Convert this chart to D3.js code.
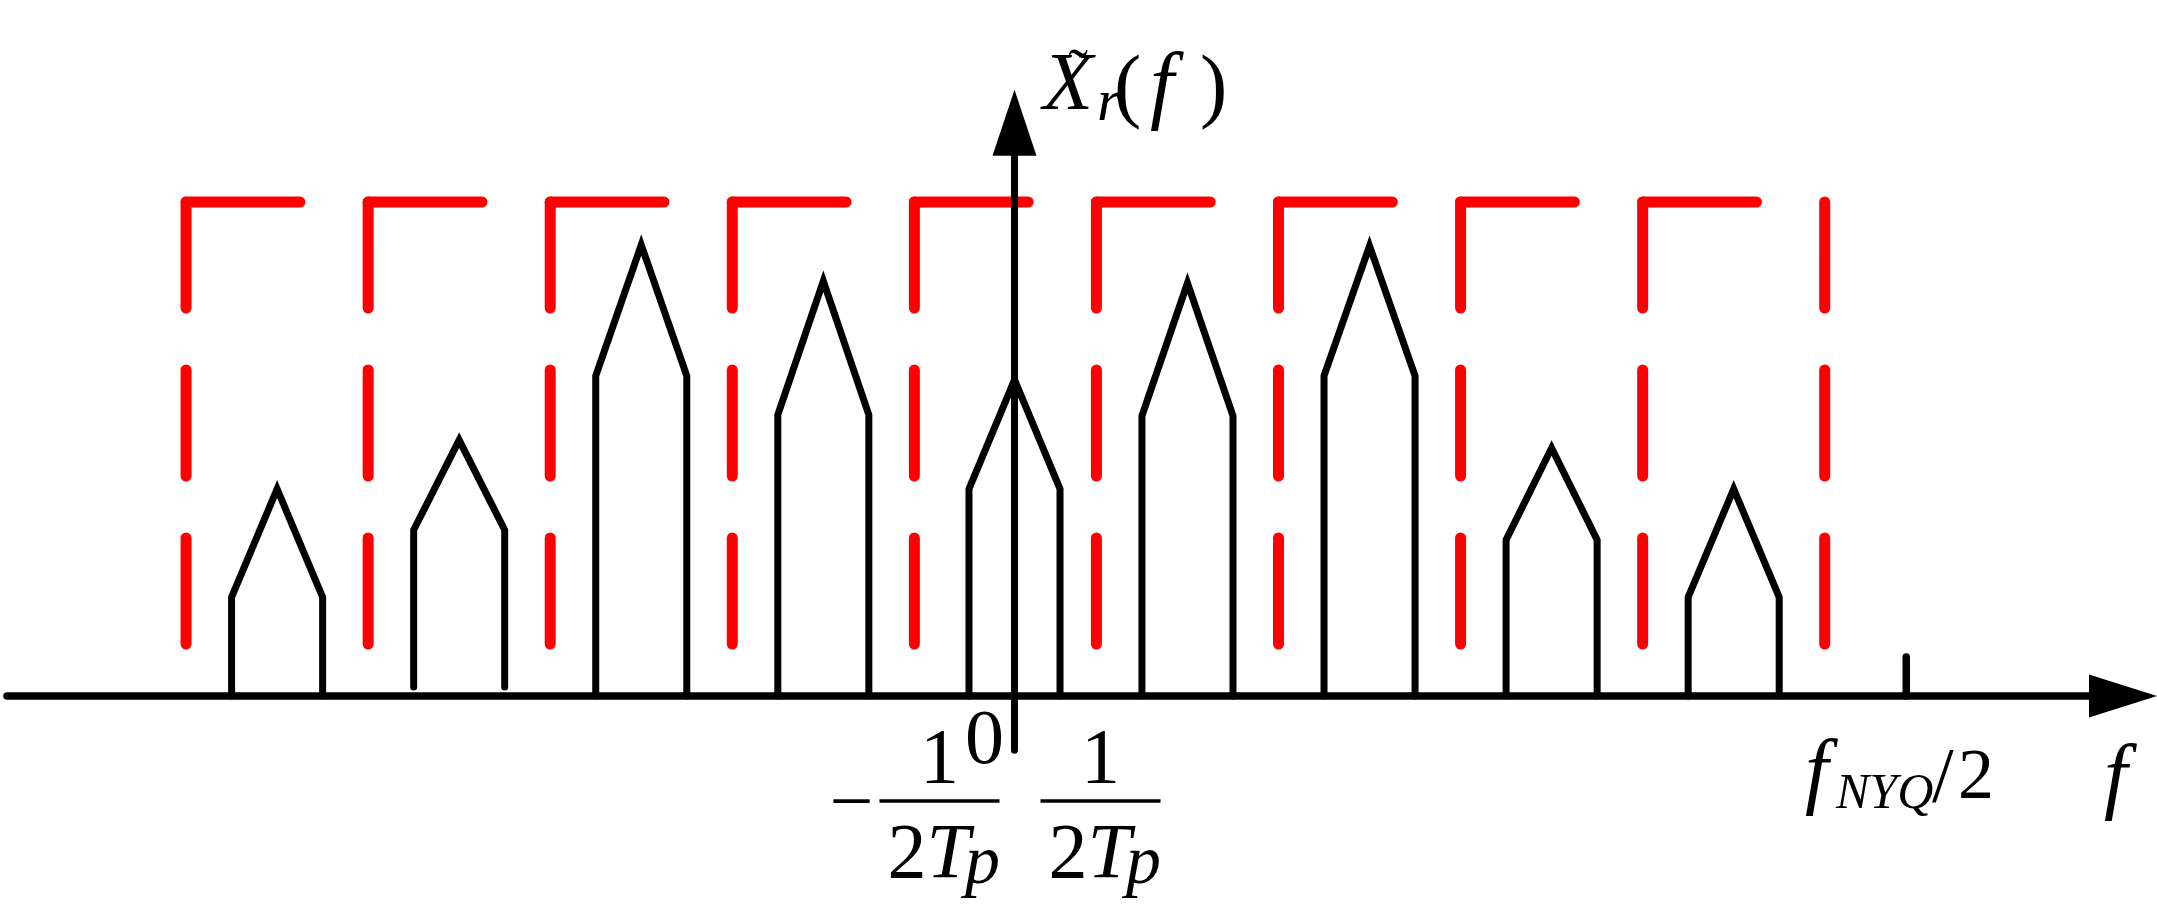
<!DOCTYPE html>
<html>
<head>
<meta charset="utf-8">
<script src="https://cdn.jsdelivr.net/npm/d3@7"></script>
<style>
  body { margin: 0; background: #fff; }
  svg { display: block; background: #fff; }
  text { font-family: "Liberation Serif", "Times New Roman", serif; fill: #000; }
</style>
</head>
<body>
<svg id="chart"></svg>
<script>
// f in units of 1/(2Tp), 0 on the vertical axis; heights relative to the red window
var pulseCenters = [-16.2, -12.2, -8.2, -4.2, 0, 3.8, 7.8, 11.8, 15.8];
var pulseShoulders = [0.200, 0.336, 0.648, 0.569, 0.419, 0.567, 0.648, 0.316, 0.200];
var pulsePeaks = [0.419, 0.518, 0.913, 0.840, 0.640, 0.836, 0.911, 0.502, 0.419];
var pulseBases = [0, 0.018, 0, 0, 0, 0, 0, 0, 0];
var pulseHalfWidth = 1;

var windowEdges = [-18.2, -14.2, -10.2, -6.2, -2.2, 1.8, 5.8, 9.8, 13.8, 17.8];
var windowHeight = 1;
var windowTopLength = 2.5;

var fNyqHalf = 19.58;
var xAxisExtent = [-22.2, 25.1];
var yAxisExtent = [-0.11, 1.227];

var W = 2157, H = 905;

var svg = d3.select("#chart")
            .attr("width", W)
            .attr("height", H);

var x = d3.scaleLinear().domain(xAxisExtent).range([4, W]);
var y = d3.scaleLinear().domain([0, 1]).range([696, 202]);

var red = "#ff0000";

// dashed window edges (drawn first, black goes on top)
svg.append("g").selectAll("line")
   .data(windowEdges)
   .enter()
   .append("line")
   .attr("x1", d => x(d)).attr("x2", d => x(d))
   .attr("y1", y(windowHeight)).attr("y2", y(0))
   .attr("stroke", red)
   .attr("stroke-width", 11)
   .attr("stroke-linecap", "round")
   .attr("stroke-dasharray", "106 62");

svg.append("g").selectAll("line")
   .data(windowEdges.slice(0, -1))
   .enter()
   .append("line")
   .attr("x1", d => x(d)).attr("x2", d => x(d + windowTopLength))
   .attr("y1", y(windowHeight)).attr("y2", y(windowHeight))
   .attr("stroke", red)
   .attr("stroke-width", 11)
   .attr("stroke-linecap", "round");

// spectral replicas
var pulses = pulseCenters.map(function(c, i) {
  return [
    [c - pulseHalfWidth, pulseBases[i]],
    [c - pulseHalfWidth, pulseShoulders[i]],
    [c, pulsePeaks[i]],
    [c + pulseHalfWidth, pulseShoulders[i]],
    [c + pulseHalfWidth, pulseBases[i]]
  ];
});

var line = d3.line().x(d => x(d[0])).y(d => y(d[1]));

svg.append("g").selectAll("path")
   .data(pulses)
   .enter()
   .append("path")
   .attr("d", line)
   .attr("fill", "none")
   .attr("stroke", "#000")
   .attr("stroke-width", 7)
   .attr("stroke-linecap", "round")
   .attr("stroke-linejoin", "miter");

// x axis with arrow
var xEnd = x(xAxisExtent[1]);
svg.append("line")
   .attr("x1", x(xAxisExtent[0]) + 3).attr("x2", xEnd - 60)
   .attr("y1", y(0)).attr("y2", y(0))
   .attr("stroke", "#000").attr("stroke-width", 7.5)
   .attr("stroke-linecap", "round");
svg.append("path")
   .attr("d", "M" + xEnd + "," + y(0) + "L" + (xEnd - 68) + "," + (y(0) - 21.5) +
              "L" + (xEnd - 68) + "," + (y(0) + 21.5) + "Z")
   .attr("fill", "#000");

// y axis with arrow
var yTop = y(yAxisExtent[1]);
svg.append("line")
   .attr("x1", x(0)).attr("x2", x(0))
   .attr("y1", yTop + 60).attr("y2", y(yAxisExtent[0]))
   .attr("stroke", "#000").attr("stroke-width", 7)
   .attr("stroke-linecap", "round");
svg.append("path")
   .attr("d", "M" + x(0) + "," + yTop + "L" + (x(0) - 22) + "," + (yTop + 66) +
              "L" + (x(0) + 22) + "," + (yTop + 66) + "Z")
   .attr("fill", "#000");

// f_NYQ/2 tick
var tickAxis = d3.axisTop(x).tickValues([fNyqHalf]).tickSize(39).tickFormat("");
var tg = svg.append("g")
   .attr("transform", "translate(0," + y(0) + ")")
   .call(tickAxis);
tg.select(".domain").remove();
tg.selectAll(".tick line")
  .attr("stroke", "#000")
  .attr("stroke-width", 7.5)
  .attr("stroke-linecap", "round");

// labels
var x0 = x(0);

// origin
svg.append("text").attr("x", x0 - 30).attr("y", 763)
   .attr("text-anchor", "middle").attr("font-size", 78).text("0");

// -1/(2Tp)
svg.append("text").attr("x", x0 - 163).attr("y", 827)
   .attr("text-anchor", "middle").attr("font-size", 78).text("\u2212");

function fraction(cx) {
  svg.append("text").attr("x", cx).attr("y", 782)
     .attr("text-anchor", "middle").attr("font-size", 78).text("1");
  svg.append("line")
     .attr("x1", cx - 60).attr("x2", cx + 60)
     .attr("y1", 801).attr("y2", 801)
     .attr("stroke", "#000").attr("stroke-width", 3.5);
  var t = svg.append("text").attr("x", cx - 52).attr("y", 877).attr("font-size", 78);
  t.append("tspan").text("2");
  t.append("tspan").attr("font-style", "italic").text("T");
  t.append("tspan").attr("font-style", "italic").attr("font-size", 70)
   .attr("dx", -5).attr("dy", 6).text("p");
}
fraction(x0 - 75);
fraction(x0 + 86);

// y label  X~_r(f)
var yl = svg.append("text").attr("y", 109).attr("font-size", 82);
yl.append("tspan").attr("x", 1043).attr("font-style", "italic").text("X");
yl.append("tspan").attr("x", 1097).attr("y", 120).attr("font-style", "italic")
  .attr("font-size", 60).text("r");
yl.append("tspan").attr("x", 1114).attr("y", 112).attr("font-size", 82).text("(");
yl.append("tspan").attr("x", 1150).attr("y", 112).attr("font-style", "italic")
  .attr("font-size", 86).text("f");
yl.append("tspan").attr("x", 1200).attr("y", 112).attr("font-size", 82).text(")");
svg.append("text").attr("x", 1078).attr("y", 89).attr("text-anchor", "middle")
   .attr("font-size", 60).text("\u02DC");

// f_NYQ/2
var nl = svg.append("text").attr("y", 798).attr("font-size", 84);
nl.append("tspan").attr("x", 1805).attr("font-style", "italic").text("f");
nl.append("tspan").attr("x", 1836).attr("y", 808).attr("font-style", "italic")
  .attr("font-size", 50).text("NYQ");
nl.append("tspan").attr("x", 1932).attr("y", 801).attr("font-size", 78).text("/");
nl.append("tspan").attr("x", 1958).attr("y", 798).attr("font-size", 72).text("2");

// axis name
svg.append("text").attr("x", 2104).attr("y", 803)
   .attr("font-style", "italic").attr("font-size", 84).text("f");
</script>
</body>
</html>
